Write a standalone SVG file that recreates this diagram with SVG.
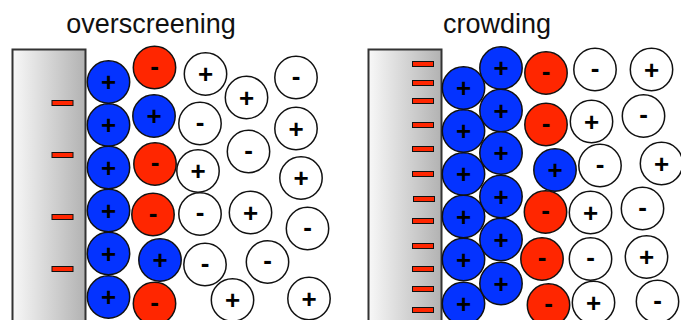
<svg xmlns="http://www.w3.org/2000/svg" width="681" height="320" viewBox="0 0 681 320">
<defs>
<linearGradient id="metal" x1="0" y1="0" x2="1" y2="0">
<stop offset="0" stop-color="#f8f8f8"/>
<stop offset="1" stop-color="#b2b2b2"/>
</linearGradient>
<style>
.title{font-family:"Liberation Sans",Arial,sans-serif;font-size:27px;fill:#111;text-anchor:middle}
.electrode{fill:url(#metal);stroke:#333;stroke-width:2}
.bar{fill:#ff2600;stroke:#111;stroke-width:1}
.ion circle{stroke:#111;stroke-width:1.5}
.cat circle{fill:#0433ff}
.an circle{fill:#ff2600}
.free circle{fill:#fff}
.ion text{font-family:"Liberation Sans",Arial,sans-serif;font-weight:bold;font-size:26px;fill:#000;text-anchor:middle}
</style>
</defs>
<rect width="681" height="320" fill="#fff"/>

<g id="title-overscreening"><text class="title" x="151" y="33">overscreening</text></g>
<g id="title-crowding"><text class="title" x="497" y="33">crowding</text></g>

<g id="electrode-left">
<rect class="electrode" x="12.5" y="49.5" width="73" height="290"/>
<rect class="bar" x="52" y="100.5" width="21" height="5"/>
<rect class="bar" x="52" y="152.5" width="21" height="5"/>
<rect class="bar" x="52" y="214.5" width="21" height="5"/>
<rect class="bar" x="52" y="266.5" width="21" height="5"/>
</g>

<g id="electrode-right">
<rect class="electrode" x="368.5" y="49.5" width="73" height="290"/>
<rect class="bar" x="412.5" y="61.5" width="21" height="5"/>
<rect class="bar" x="412.5" y="80.5" width="21" height="5"/>
<rect class="bar" x="412.5" y="98.5" width="21" height="5"/>
<rect class="bar" x="412.5" y="122.5" width="21" height="5"/>
<rect class="bar" x="412.5" y="146.5" width="21" height="5"/>
<rect class="bar" x="412.5" y="171.5" width="21" height="5"/>
<rect class="bar" x="413.5" y="196.5" width="21" height="5"/>
<rect class="bar" x="412.5" y="218.5" width="21" height="5"/>
<rect class="bar" x="412.5" y="243.5" width="21" height="5"/>
<rect class="bar" x="412.5" y="266.5" width="21" height="5"/>
<rect class="bar" x="412.5" y="286.5" width="21" height="5"/>
<rect class="bar" x="412.5" y="307.5" width="21" height="5"/>
</g>

<g id="ions-left">
<g id="L-c1" class="ion cat" transform="translate(108.5,82)"><circle r="21.2"/><text y="9">+</text></g>
<g id="L-c2" class="ion cat" transform="translate(108.5,125)"><circle r="21.2"/><text y="9">+</text></g>
<g id="L-c3" class="ion cat" transform="translate(108.5,167.5)"><circle r="21.2"/><text y="9">+</text></g>
<g id="L-c4" class="ion cat" transform="translate(108.5,210.5)"><circle r="21.2"/><text y="9">+</text></g>
<g id="L-c5" class="ion cat" transform="translate(108.5,253.5)"><circle r="21.2"/><text y="9">+</text></g>
<g id="L-c6" class="ion cat" transform="translate(108.5,297)"><circle r="21.2"/><text y="9">+</text></g>
<g id="L-a1" class="ion an" transform="translate(154.5,67.5)"><circle r="21.2"/><text y="7">-</text></g>
<g id="L-c7" class="ion cat" transform="translate(154,116)"><circle r="21.2"/><text y="9">+</text></g>
<g id="L-a2" class="ion an" transform="translate(155,164)"><circle r="21.2"/><text y="7">-</text></g>
<g id="L-a3" class="ion an" transform="translate(153,214.5)"><circle r="21.2"/><text y="7">-</text></g>
<g id="L-c8" class="ion cat" transform="translate(160,260)"><circle r="21.2"/><text y="9">+</text></g>
<g id="L-a4" class="ion an" transform="translate(154.5,303.5)"><circle r="21.2"/><text y="7">-</text></g>
<g id="L-f1" class="ion free" transform="translate(205.5,74)"><circle r="21.2"/><text y="9">+</text></g>
<g id="L-f2" class="ion free" transform="translate(246.5,97.5)"><circle r="21.2"/><text y="9">+</text></g>
<g id="L-f3" class="ion free" transform="translate(296,77.5)"><circle r="21.2"/><text y="7">-</text></g>
<g id="L-f4" class="ion free" transform="translate(200,123.5)"><circle r="21.2"/><text y="7">-</text></g>
<g id="L-f5" class="ion free" transform="translate(248.5,151.5)"><circle r="21.2"/><text y="7">-</text></g>
<g id="L-f6" class="ion free" transform="translate(296,128.5)"><circle r="21.2"/><text y="9">+</text></g>
<g id="L-f7" class="ion free" transform="translate(198,171)"><circle r="21.2"/><text y="9">+</text></g>
<g id="L-f8" class="ion free" transform="translate(301,178)"><circle r="21.2"/><text y="9">+</text></g>
<g id="L-f9" class="ion free" transform="translate(200,214)"><circle r="21.2"/><text y="7">-</text></g>
<g id="L-f10" class="ion free" transform="translate(250.5,212.5)"><circle r="21.2"/><text y="9">+</text></g>
<g id="L-f11" class="ion free" transform="translate(307.5,228.5)"><circle r="21.2"/><text y="7">-</text></g>
<g id="L-f12" class="ion free" transform="translate(205,264.5)"><circle r="21.2"/><text y="7">-</text></g>
<g id="L-f13" class="ion free" transform="translate(267.5,262)"><circle r="21.2"/><text y="7">-</text></g>
<g id="L-f14" class="ion free" transform="translate(232.5,300)"><circle r="21.2"/><text y="9">+</text></g>
<g id="L-f15" class="ion free" transform="translate(309,298.5)"><circle r="21.2"/><text y="9">+</text></g>
</g>

<g id="ions-right">
<g id="R-c1" class="ion cat" transform="translate(463.5,88)"><circle r="21.2"/><text y="9">+</text></g>
<g id="R-c2" class="ion cat" transform="translate(463.5,131)"><circle r="21.2"/><text y="9">+</text></g>
<g id="R-c3" class="ion cat" transform="translate(463.5,174)"><circle r="21.2"/><text y="9">+</text></g>
<g id="R-c4" class="ion cat" transform="translate(463.5,216.5)"><circle r="21.2"/><text y="9">+</text></g>
<g id="R-c5" class="ion cat" transform="translate(463.5,259.5)"><circle r="21.2"/><text y="9">+</text></g>
<g id="R-c6" class="ion cat" transform="translate(463.5,303.5)"><circle r="21.2"/><text y="9">+</text></g>
<g id="R-c7" class="ion cat" transform="translate(501,68)"><circle r="21.2"/><text y="9">+</text></g>
<g id="R-c8" class="ion cat" transform="translate(501,110.5)"><circle r="21.2"/><text y="9">+</text></g>
<g id="R-c9" class="ion cat" transform="translate(501,153)"><circle r="21.2"/><text y="9">+</text></g>
<g id="R-c10" class="ion cat" transform="translate(501,196.5)"><circle r="21.2"/><text y="9">+</text></g>
<g id="R-c11" class="ion cat" transform="translate(501,239.5)"><circle r="21.2"/><text y="9">+</text></g>
<g id="R-c12" class="ion cat" transform="translate(501,283.5)"><circle r="21.2"/><text y="9">+</text></g>
<g id="R-a1" class="ion an" transform="translate(546,73)"><circle r="21.2"/><text y="7">-</text></g>
<g id="R-a2" class="ion an" transform="translate(546,124.5)"><circle r="21.2"/><text y="7">-</text></g>
<g id="R-c13" class="ion cat" transform="translate(555,170)"><circle r="21.2"/><text y="9">+</text></g>
<g id="R-a3" class="ion an" transform="translate(545.5,212)"><circle r="21.2"/><text y="7">-</text></g>
<g id="R-a4" class="ion an" transform="translate(542,259)"><circle r="21.2"/><text y="7">-</text></g>
<g id="R-a5" class="ion an" transform="translate(548.5,305)"><circle r="21.2"/><text y="7">-</text></g>
<g id="R-f1" class="ion free" transform="translate(595,69.5)"><circle r="21.2"/><text y="7">-</text></g>
<g id="R-f2" class="ion free" transform="translate(651.5,69.5)"><circle r="21.2"/><text y="9">+</text></g>
<g id="R-f3" class="ion free" transform="translate(591.5,121.5)"><circle r="21.2"/><text y="9">+</text></g>
<g id="R-f4" class="ion free" transform="translate(643.5,116)"><circle r="21.2"/><text y="7">-</text></g>
<g id="R-f5" class="ion free" transform="translate(600,165.5)"><circle r="21.2"/><text y="7">-</text></g>
<g id="R-f6" class="ion free" transform="translate(661.5,163.5)"><circle r="21.2"/><text y="9">+</text></g>
<g id="R-f7" class="ion free" transform="translate(590.5,212.5)"><circle r="21.2"/><text y="9">+</text></g>
<g id="R-f8" class="ion free" transform="translate(642.5,208.5)"><circle r="21.2"/><text y="7">-</text></g>
<g id="R-f9" class="ion free" transform="translate(590.5,259)"><circle r="21.2"/><text y="7">-</text></g>
<g id="R-f10" class="ion free" transform="translate(646.5,257)"><circle r="21.2"/><text y="9">+</text></g>
<g id="R-f11" class="ion free" transform="translate(593.5,302.5)"><circle r="21.2"/><text y="9">+</text></g>
<g id="R-f12" class="ion free" transform="translate(657.5,301.5)"><circle r="21.2"/><text y="7">-</text></g>
</g>

<g id="connectors"/>
</svg>
